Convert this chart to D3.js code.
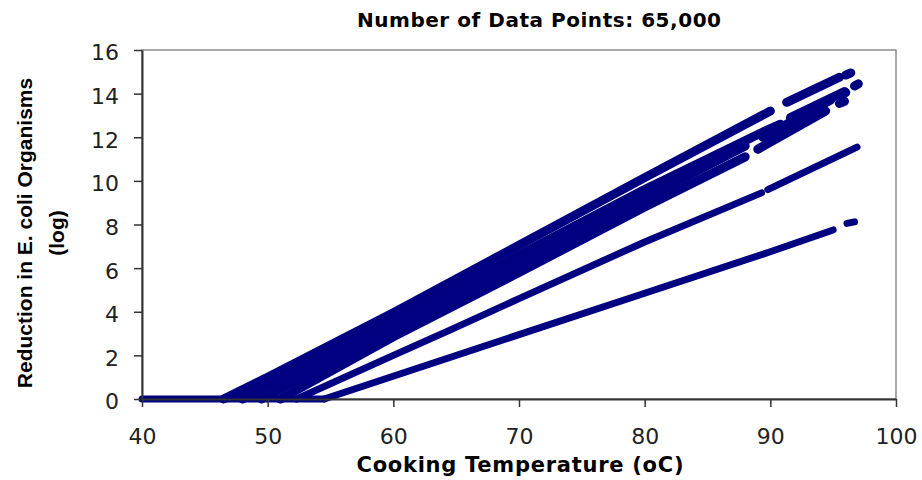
<!DOCTYPE html>
<html>
<head>
<meta charset="utf-8">
<script src="https://d3js.org/d3.v7.min.js"></script>
<style>
  body { margin: 0; background: #fff; }
</style>
</head>
<body>
<div id="chart_container"></div>
<script>
const DOT_COLOR = "#000080"

// [temperature (oC), log reduction]; null = gap in the cloud of points
const zeroLine = [[40, 0], [54.5, 0]]
const lineA = [[46.5, 0], [50, 1.0], [60, 3.95], [70, 7.05], [80, 10.15], [90, 13.2], null, [91.3, 13.6], [95.5, 14.75], null, [96.0, 14.85], [96.4, 14.95]]
const lineB = [[48, 0], [60, 3.55], [70, 6.6], [80, 9.6], [90, 12.4], [90.8, 12.6], null, [91.6, 12.9], [95.9, 14.1], null, [96.7, 14.35], [97.0, 14.45]]
const lineC = [[49.5, 0], [60, 3.2], [70, 6.2], [80, 9.2], [88, 11.6], null, [89.4, 12.0], [94.8, 13.7], null, [95.6, 13.95], [96.0, 14.05]]
const lineD = [[51, 0], [60, 2.85], [70, 5.8], [80, 8.8], [88, 11.1], null, [89.0, 11.45], [94.4, 13.2], null, [95.5, 13.55], [95.9, 13.65]]
const lineE = [[52.3, 0], [60, 2.0], [64.5, 3.16], [70, 4.6], [80, 7.2], [89.3, 9.45], null, [89.8, 9.6], [96.9, 11.55]]
const lineF = [[54.5, 0], [70, 2.95], [80, 4.85], [90, 6.75], [95, 7.75], null, [96.1, 8.05], [96.7, 8.12]]

const upperLines = [lineD, lineC, lineB, lineA]
const lowerLines = [zeroLine, lineF, lineE]

const xTicks = [40, 50, 60, 70, 80, 90, 100]
const yTicks = [0, 2, 4, 6, 8, 10, 12, 14, 16]

let width = 922, height = 480;
let plotLeft = 142, plotRight = 896, plotTop = 50, plotBottom = 399;

let svg = d3.select("#chart_container").append("svg")
    .attr("width", width).attr("height", height)

let x = d3.scaleLinear().domain([40, 100]).range([plotLeft, plotRight])
let y = d3.scaleLinear().domain([0, 16]).range([plotBottom, plotTop])

// plot area border (gray, Excel style)
svg.append("rect")
    .attr("x", plotLeft).attr("y", plotTop)
    .attr("width", plotRight - plotLeft).attr("height", plotBottom - plotTop)
    .attr("fill", "none").attr("stroke", "#8c8c8c").attr("stroke-width", 1.5)

let line = d3.line()
    .defined(d => d)
    .x(d => x(d[0]))
    .y(d => y(d[1]))

function drawCloud(series, thickness) {
    svg.append("g").selectAll("path").data(series).join("path")
        .attr("d", line)
        .attr("fill", "none")
        .attr("stroke", DOT_COLOR)
        .attr("stroke-width", thickness)
        .attr("stroke-linecap", "round")
        .attr("stroke-linejoin", "round")
}
drawCloud(lowerLines, 7)
drawCloud(upperLines, 9)

let xAxis = svg.append("g")
    .attr("transform", `translate(0,${plotBottom})`)
    .call(d3.axisBottom(x).tickValues(xTicks).tickSize(8).tickSizeOuter(0).tickPadding(21))

let yAxis = svg.append("g")
    .attr("transform", `translate(${plotLeft},0)`)
    .call(d3.axisLeft(y).tickValues(yTicks).tickSize(8).tickSizeOuter(0).tickPadding(15))

svg.selectAll(".domain").attr("stroke", "#333").attr("stroke-width", 2)
svg.selectAll(".tick line").attr("stroke", "#333").attr("stroke-width", 1.5)
svg.selectAll(".tick text")
    .attr("fill", "#222")
    .style("font-family", "'DejaVu Sans', sans-serif")
    .style("font-size", "22px")
yAxis.selectAll(".tick text").attr("dy", "0.45em")

// title
svg.append("text")
    .attr("x", 539).attr("y", 27)
    .attr("text-anchor", "middle")
    .style("font-family", "'DejaVu Sans', sans-serif")
    .style("font-weight", "bold")
    .style("font-size", "20px")
    .attr("textLength", 364)
    .text("Number of Data Points: 65,000")

// x axis title
svg.append("text")
    .attr("x", 520).attr("y", 472)
    .attr("text-anchor", "middle")
    .style("font-family", "'DejaVu Sans', sans-serif")
    .style("font-weight", "bold")
    .style("font-size", "21px")
    .attr("textLength", 327)
    .text("Cooking Temperature (oC)")

// y axis title, two lines
let yTitle = svg.append("text")
    .attr("transform", "translate(32,233) rotate(-90)")
    .attr("text-anchor", "middle")
    .style("font-family", "'Liberation Sans', Arial, sans-serif")
    .style("font-weight", "bold")
    .style("font-size", "21px")
yTitle.append("tspan").attr("x", 0).attr("y", 0).text("Reduction in E. coli Organisms")
yTitle.append("tspan").attr("x", 0).attr("y", 32).text("(log)")
</script>
</body>
</html>
